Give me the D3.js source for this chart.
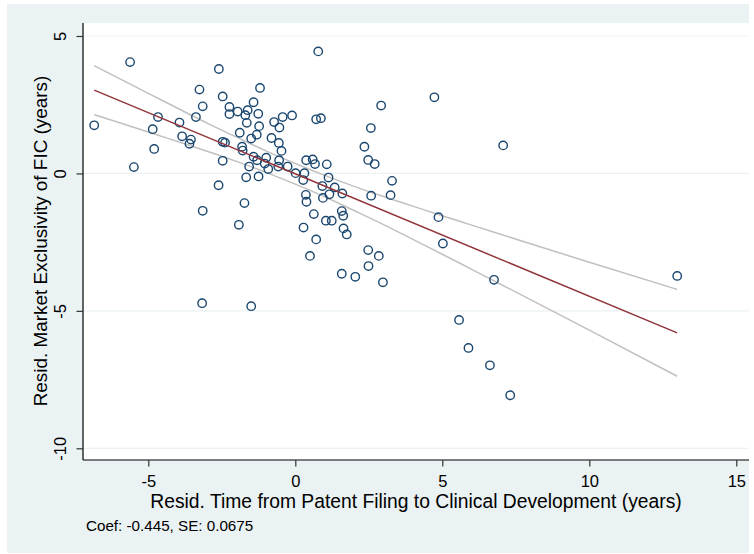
<!DOCTYPE html>
<html><head><meta charset="utf-8">
<script src="https://cdn.jsdelivr.net/npm/d3@7"></script>
<style>html,body{margin:0;padding:0;background:#fff;}svg{display:block;}</style>
</head><body>
<svg id="chart" width="754" height="554"></svg>
<script>
// ---- data ----
const pointsX = [-6.84,-5.62,-5.49,-4.85,-4.80,-4.67,-3.94,-3.85,-3.55,-3.60,-3.38,-3.26,-3.15,-2.60,-2.47,-2.47,-2.39,-2.47,-2.61,-2.24,
 -2.24,-1.96,-1.70,-1.65,-1.62,-1.42,-1.20,-1.26,-1.23,-1.89,-1.50,-1.31,-0.72,-0.43,-0.11,-0.54,-0.81,-0.56,-0.47,-1.81,
 -1.79,-1.42,-0.99,-1.30,-1.57,-0.92,-0.58,-0.26,0.01,0.37,0.31,0.27,0.36,0.38,-1.67,-1.25,-1.73,-3.15,-1.92,0.28,
 0.50,-3.17,-1.50,0.78,0.71,0.87,2.92,2.57,2.35,2.48,2.70,0.59,0.67,1.07,1.13,0.92,1.34,1.16,0.94,1.60,
 2.58,3.29,3.24,0.63,1.58,1.63,1.04,1.24,1.64,1.75,0.71,2.48,2.84,2.49,1.58,2.04,2.98,4.73,7.07,4.87,
 5.02,6.76,12.99,5.57,5.89,6.62,7.31,-0.55,-1.04];
const pointsY = [1.75,4.05,0.23,1.61,0.89,2.05,1.85,1.35,1.23,1.08,2.05,3.05,2.44,3.80,2.80,1.15,1.12,0.46,-0.43,2.42,
 2.16,2.25,2.12,1.84,2.30,2.59,3.11,2.17,1.72,1.48,1.27,1.41,1.87,2.05,2.11,1.67,1.29,1.11,0.82,0.97,
 0.83,0.61,0.57,0.48,0.25,0.16,0.25,0.25,0.01,0.48,0.01,-0.24,-0.78,-1.03,-0.14,-0.11,-1.08,-1.36,-1.87,-1.97,
 -3.00,-4.72,-4.83,4.44,1.97,2.01,2.47,1.65,0.97,0.49,0.34,0.51,0.34,0.33,-0.15,-0.46,-0.51,-0.76,-0.89,-0.73,
 -0.81,-0.27,-0.79,-1.48,-1.37,-1.54,-1.72,-1.72,-2.00,-2.22,-2.40,-2.79,-3.00,-3.37,-3.65,-3.76,-3.96,2.77,1.02,-1.59,
 -2.55,-3.87,-3.73,-5.33,-6.35,-6.98,-8.07,0.48,0.36];
const fitX = [-6.84, 12.99];
const fitY = [3.03, -5.80];
const ciX     = [-6.84,-5,-4,-3,-2,-1,0,1,2,3,4,5,6,8,10,12.99];
const ciUpper = [3.92,2.91,2.37,1.83,1.32,0.82,0.36,-0.07,-0.47,-0.84,-1.19,-1.54,-1.88,-2.56,-3.23,-4.22];
const ciLower = [2.14,1.51,1.16,0.81,0.44,0.04,-0.39,-0.85,-1.35,-1.86,-2.40,-2.94,-3.49,-4.59,-5.70,-7.38];
const xTicks = [-5, 0, 5, 10, 15];
const yTicks = [-10, -5, 0, 5];
const xTitle = "Resid. Time from Patent Filing to Clinical Development (years)";
const yTitle = "Resid. Market Exclusivity of FIC (years)";
const note = "Coef: -0.445, SE: 0.0675";

// ---- layout ----
const svg = d3.select("#chart");
const font = "'Liberation Sans', Arial, Helvetica, sans-serif";
const plot = {left: 83, right: 749, top: 23, bottom: 460};
const x = d3.scaleLinear().domain([-5, 15]).range([148.3, 736.3]);
const y = d3.scaleLinear().domain([-10, 5]).range([448.3, 36]);
const fmt = d => String(d);

svg.append("rect").attr("x", 7).attr("y", 4).attr("width", 742).attr("height", 549).attr("fill", "#eaf2f3");
svg.append("rect").attr("x", plot.left).attr("y", plot.top)
  .attr("width", plot.right - plot.left).attr("height", plot.bottom - plot.top).attr("fill", "#ffffff");

// gridlines
svg.append("g").selectAll("line").data(yTicks).join("line")
  .attr("x1", plot.left).attr("x2", plot.right)
  .attr("y1", d => y(d)).attr("y2", d => y(d))
  .attr("stroke", "#eaf2f3").attr("stroke-width", 1.2);

// CI lines
const line = d3.line().x(d => x(d[0])).y(d => y(d[1])).curve(d3.curveMonotoneX);
svg.append("path").datum(ciX.map((v, i) => [v, ciUpper[i]])).attr("d", line)
  .attr("fill", "none").attr("stroke", "#c0c0c0").attr("stroke-width", 1.5);
svg.append("path").datum(ciX.map((v, i) => [v, ciLower[i]])).attr("d", line)
  .attr("fill", "none").attr("stroke", "#c0c0c0").attr("stroke-width", 1.5);

// points
svg.append("g").selectAll("circle").data(pointsX.map((v, i) => [v, pointsY[i]])).join("circle")
  .attr("cx", d => x(d[0])).attr("cy", d => y(d[1])).attr("r", 4.2)
  .attr("fill", "none").attr("stroke", "#1a476f").attr("stroke-width", 1.4);

// fit line
svg.append("path").datum(fitX.map((v, i) => [v, fitY[i]])).attr("d", d3.line().x(d => x(d[0])).y(d => y(d[1])))
  .attr("fill", "none").attr("stroke", "#90353b").attr("stroke-width", 1.5);

// axes
const xAxis = svg.append("g").attr("transform", `translate(0,${plot.bottom})`)
  .call(d3.axisBottom(x).tickValues(xTicks).tickSize(6.5).tickPadding(9).tickFormat(fmt));
xAxis.select(".domain").attr("d", `M${plot.left},0H${plot.right}`).attr("stroke", "#000").attr("stroke-width", 1.2);
xAxis.selectAll(".tick line").attr("stroke", "#333").attr("stroke-width", 1.2);
xAxis.selectAll(".tick text").attr("font-family", font).attr("font-size", 16.5).attr("fill", "#000");

const yAxis = svg.append("g").attr("transform", `translate(${plot.left},0)`)
  .call(d3.axisLeft(y).tickValues(yTicks).tickSize(6.5).tickFormat(fmt));
yAxis.select(".domain").attr("d", `M0,${plot.top}V${plot.bottom}`).attr("stroke", "#000").attr("stroke-width", 1.2);
yAxis.selectAll(".tick line").attr("stroke", "#333").attr("stroke-width", 1.2);
yAxis.selectAll(".tick text").attr("font-family", font).attr("font-size", 16.5).attr("fill", "#000")
  .attr("x", 0).attr("dy", 0).attr("text-anchor", "middle")
  .attr("transform", "translate(-17,0) rotate(-90)");

// titles
svg.append("text").attr("x", 416).attr("y", 508).attr("text-anchor", "middle")
  .attr("font-family", font).attr("font-size", 19.3).attr("fill", "#000").text(xTitle);
svg.append("text").attr("transform", "translate(46.5,241) rotate(-90)").attr("text-anchor", "middle")
  .attr("font-family", font).attr("font-size", 18.9).attr("fill", "#000").text(yTitle);
svg.append("text").attr("x", 86).attr("y", 531)
  .attr("font-family", font).attr("font-size", 15.2).attr("fill", "#000").text(note);
</script>
</body></html>
